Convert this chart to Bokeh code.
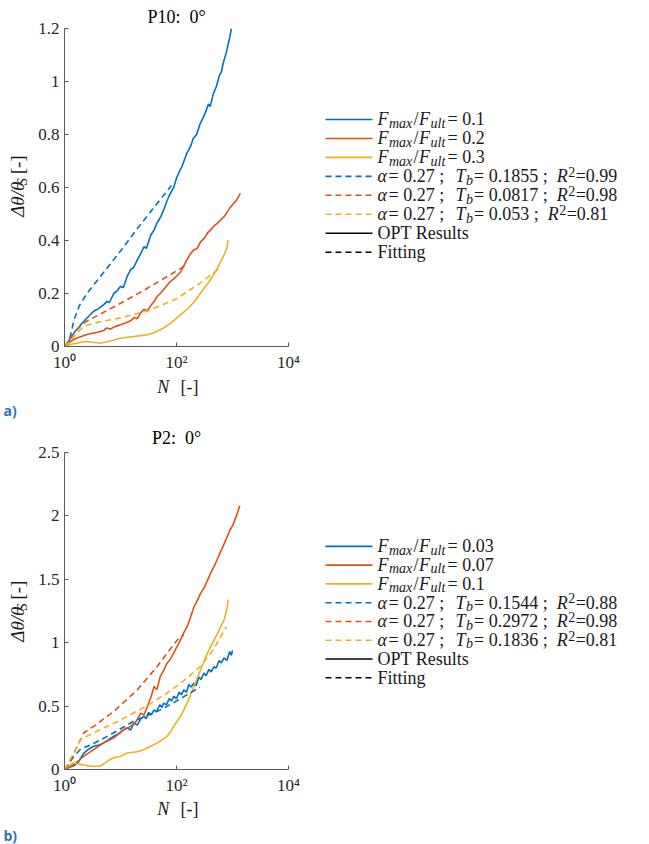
import numpy as np
from bokeh.plotting import figure
from bokeh.layouts import column, row
from bokeh.models import Range1d, FixedTicker, CustomJSTickFormatter
from bokeh.core.properties import value
from bokeh.embed import file_html
from bokeh.resources import INLINE

# ---------------- DATA (x read as decades on the log axis: N = 10**logN) ----------------
x_tick_values = [1, 100, 10000]
x_tick_labels = ["10\u2070", "10\u00b2", "10\u2074"]
y_ticks_a = [0, 0.2, 0.4, 0.6, 0.8, 1.0, 1.2]
y_ticks_b = [0, 0.5, 1.0, 1.5, 2.0, 2.5]

title_a = "P10:\u00a0\u00a00\u00b0"
title_b = "P2:\u00a0\u00a00\u00b0"

# Panel a) P10
a_ratio = ["0.1", "0.2", "0.3"]
a_Tb = ["0.1855", "0.0817", "0.053"]
a_R2 = ["0.99", "0.98", "0.81"]
alpha = "0.27"

a1_logN = [0, 0.05, 0.1, 0.15, 0.2, 0.25, 0.3, 0.375, 0.45, 0.52, 0.6, 0.7, 0.76, 0.8, 0.88, 0.94, 1.0, 1.05,
           1.12, 1.18, 1.24, 1.3, 1.36, 1.42, 1.46, 1.54, 1.6, 1.65, 1.72, 1.77, 1.83, 1.89, 1.95, 2.0, 2.05,
           2.1, 2.18, 2.25, 2.3, 2.36, 2.42, 2.48, 2.53, 2.57, 2.6, 2.66, 2.71, 2.77, 2.8, 2.83, 2.89, 2.95, 2.98]
a1_y = [0, 0.012, 0.03, 0.045, 0.06, 0.07, 0.085, 0.102, 0.118, 0.133, 0.142, 0.158, 0.170, 0.166, 0.2, 0.21,
        0.227, 0.222, 0.265, 0.29, 0.30, 0.327, 0.35, 0.377, 0.37, 0.42, 0.44, 0.465, 0.49, 0.515, 0.55, 0.578,
        0.60, 0.635, 0.66, 0.68, 0.727, 0.755, 0.785, 0.80, 0.84, 0.865, 0.89, 0.915, 0.905, 0.955, 0.98, 1.025,
        1.035, 1.066, 1.11, 1.166, 1.2]
a1f_logN = [0, 0.05, 0.1, 0.17, 0.26, 0.4, 0.7, 1.0, 1.3, 1.6, 1.91]
a1f_y = [0, 0.01, 0.035, 0.10, 0.152, 0.2, 0.28, 0.36, 0.445, 0.525, 0.608]

a2_logN = [0, 0.1, 0.2, 0.3, 0.4, 0.5, 0.6, 0.7, 0.75, 0.82, 0.9, 1.0, 1.1, 1.18, 1.25, 1.3, 1.36, 1.42, 1.48,
           1.54, 1.6, 1.66, 1.71, 1.77, 1.83, 1.89, 1.95, 2.0, 2.07, 2.12, 2.18, 2.25, 2.31, 2.37, 2.43, 2.5,
           2.56, 2.61, 2.67, 2.73, 2.79, 2.85, 2.9, 2.96, 3.02, 3.08, 3.14]
a2_y = [0, 0.018, 0.03, 0.038, 0.045, 0.05, 0.054, 0.06, 0.07, 0.066, 0.075, 0.082, 0.09, 0.097, 0.11, 0.105,
        0.127, 0.14, 0.135, 0.155, 0.17, 0.19, 0.2, 0.215, 0.23, 0.245, 0.255, 0.265, 0.28, 0.30, 0.325, 0.35,
        0.365, 0.37, 0.395, 0.41, 0.43, 0.44, 0.455, 0.465, 0.478, 0.49, 0.505, 0.525, 0.54, 0.555, 0.578]
a2f_logN = [0, 0.1, 0.2, 0.3, 0.375, 0.6, 1.0, 1.4, 1.8, 2.2]
a2f_y = [0, 0.03, 0.058, 0.08, 0.093, 0.118, 0.163, 0.21, 0.26, 0.31]

a3_logN = [0, 0.1, 0.22, 0.3, 0.4, 0.5, 0.635, 0.8, 0.99, 1.2, 1.47, 1.6, 1.76, 1.9, 2.0, 2.12, 2.24, 2.35, 2.47,
           2.6, 2.71, 2.8, 2.86, 2.9, 2.92]
a3_y = [0, 0.008, 0.0125, 0.016, 0.019, 0.016, 0.0125, 0.02, 0.031, 0.037, 0.044, 0.052, 0.069, 0.088, 0.107,
        0.128, 0.15, 0.178, 0.213, 0.25, 0.288, 0.325, 0.351, 0.37, 0.401]
a3f_logN = [0, 0.1, 0.2, 0.345, 0.6, 1.0, 1.5, 2.0, 2.43, 2.8]
a3f_y = [0, 0.02, 0.045, 0.076, 0.092, 0.108, 0.135, 0.18, 0.24, 0.30]

# Panel b) P2
b_ratio = ["0.03", "0.07", "0.1"]
b_Tb = ["0.1544", "0.2972", "0.1836"]
b_R2 = ["0.88", "0.98", "0.81"]

b1_logN = [0, 0.1, 0.17, 0.25, 0.345, 0.43, 0.52, 0.6, 0.7, 0.8, 0.88, 0.96, 1.06, 1.12, 1.18, 1.24, 1.3, 1.36,
           1.42, 1.46, 1.5, 1.55, 1.6, 1.64, 1.7, 1.74, 1.77, 1.82, 1.87, 1.91, 1.95, 2.0, 2.05, 2.09, 2.13, 2.18,
           2.22, 2.26, 2.31, 2.35, 2.4, 2.44, 2.49, 2.53, 2.58, 2.62, 2.67, 2.71, 2.76, 2.8, 2.85, 2.9, 2.95,
           2.98, 3.0]
b1_y = [0, 0.02, 0.03, 0.06, 0.13, 0.16, 0.183, 0.19, 0.21, 0.24, 0.262, 0.28, 0.314, 0.33, 0.31, 0.367, 0.35,
        0.40, 0.419, 0.40, 0.45, 0.43, 0.47, 0.455, 0.51, 0.49, 0.524, 0.51, 0.56, 0.54, 0.576, 0.56, 0.61, 0.59,
        0.628, 0.61, 0.67, 0.65, 0.68, 0.66, 0.73, 0.71, 0.76, 0.74, 0.79, 0.77, 0.81, 0.80, 0.86, 0.84, 0.88,
        0.86, 0.93, 0.90, 0.94]
b1f_logN = [0, 0.05, 0.17, 0.286, 0.52, 0.8, 1.23, 1.71, 2.0, 2.19, 2.42]
b1f_y = [0, 0.03, 0.105, 0.16, 0.205, 0.27, 0.38, 0.47, 0.54, 0.59, 0.65]

b2_logN = [0, 0.17, 0.345, 0.52, 0.70, 0.88, 1.06, 1.18, 1.28, 1.36, 1.42, 1.48, 1.55, 1.6, 1.65, 1.71, 1.77,
           1.83, 1.89, 1.95, 2.01, 2.07, 2.13, 2.19, 2.25, 2.31, 2.37, 2.43, 2.49, 2.55, 2.61, 2.67, 2.73, 2.77,
           2.83, 2.89, 2.95, 3.01, 3.07, 3.13]
b2_y = [0, 0.039, 0.105, 0.157, 0.21, 0.25, 0.314, 0.34, 0.38, 0.445, 0.43, 0.497, 0.58, 0.654, 0.63, 0.733,
        0.78, 0.838, 0.87, 0.917, 0.97, 1.02, 1.08, 1.126, 1.2, 1.28, 1.33, 1.39, 1.43, 1.49, 1.55, 1.6, 1.66,
        1.70, 1.76, 1.82, 1.885, 1.93, 2.0, 2.08]
b2f_logN = [0, 0.05, 0.17, 0.345, 0.52, 0.88, 1.3, 1.65, 2.01, 2.13]
b2f_y = [0, 0.026, 0.13, 0.29, 0.34, 0.458, 0.628, 0.81, 1.02, 1.06]

b3_logN = [0, 0.08, 0.16, 0.3, 0.46, 0.64, 0.72, 0.81, 0.9, 1.0, 1.12, 1.3, 1.42, 1.55, 1.66, 1.75, 1.83, 1.9,
           1.95, 2.01, 2.07, 2.13, 2.19, 2.25, 2.31, 2.37, 2.43, 2.49, 2.55, 2.61, 2.67, 2.73, 2.79, 2.85, 2.88,
           2.91, 2.92]
b3_y = [0, 0.03, 0.052, 0.04, 0.026, 0.026, 0.05, 0.078, 0.095, 0.105, 0.13, 0.14, 0.157, 0.185, 0.21, 0.235,
        0.262, 0.30, 0.34, 0.38, 0.419, 0.47, 0.524, 0.59, 0.655, 0.72, 0.785, 0.85, 0.916, 0.97, 1.02, 1.07,
        1.126, 1.18, 1.23, 1.29, 1.34]
b3f_logN = [0, 0.1, 0.17, 0.28, 0.64, 1.0, 1.23, 1.5, 1.82, 2.1, 2.42, 2.65, 2.89]
b3f_y = [0, 0.08, 0.13, 0.236, 0.314, 0.39, 0.445, 0.51, 0.60, 0.69, 0.81, 0.94, 1.126]

# ---------------- STYLE ----------------
BLUE, RED, YELLOW = "#0072BD", "#D95319", "#EDB120"
COLORS = [BLUE, RED, YELLOW]
SERIF = "Liberation Serif"
TXT = "#1a1a1a"
AX = "#5a5a5a"
FS = "17px"
LFS = "18px"
SUB = "14px"
LW = 1.6
DASH = "6 4"

TW = {c: 0.5 for c in "0123456789"}
TW.update({".": 0.25, " ": 0.25, ";": 0.278, "=": 0.564})


def tw(s, size=18):
    return sum(TW.get(c, 0.5) for c in s) * size


def blank_fig(w, h):
    f = figure(width=w, height=h, x_range=Range1d(0, w), y_range=Range1d(0, h),
               output_backend="svg", toolbar_location=None,
               x_axis_location=None, y_axis_location=None,
               min_border_left=0, min_border_right=0, min_border_top=0, min_border_bottom=0)
    f.outline_line_color = None
    f.grid.visible = False
    return f


def put(f, xs, ys, texts, size=LFS, style="normal", font=SERIF, color=TXT, angle=0, align="left"):
    f.text(x=xs, y=ys, text=texts, text_font=value(font), text_font_size=size,
           text_font_style=style, text_color=color, text_baseline="middle",
           text_align=align, angle=angle)


def make_plot(title, ymax, yticks, height, top, standoff, curves, fits):
    p = figure(width=278, height=height, x_axis_type="log",
               x_range=Range1d(1, 1e4), y_range=Range1d(0, ymax),
               output_backend="svg", toolbar_location=None, title=title,
               min_border_left=32, min_border_right=22, min_border_top=top, min_border_bottom=27)
    p.outline_line_color = None
    p.grid.visible = False
    p.title.text_font = SERIF
    p.title.text_font_size = "18px"
    p.title.text_font_style = "normal"
    p.title.text_color = "#000000"
    p.title.align = "center"
    p.title.standoff = standoff
    for (lx, ly), c in zip(curves, COLORS):
        p.line(10 ** np.array(lx), ly, color=c, line_width=LW)
    for (lx, ly), c in zip(fits, COLORS):
        p.line(10 ** np.array(lx), ly, color=c, line_width=LW, line_dash=DASH)
    p.xaxis.ticker = FixedTicker(ticks=x_tick_values)
    p.xaxis.formatter = CustomJSTickFormatter(
        args=dict(vals=x_tick_values, labs=x_tick_labels),
        code="for (let i = 0; i < vals.length; i++) { if (Math.abs(Math.log10(tick) - Math.log10(vals[i])) < 1e-6) return labs[i]; } return '';")
    p.yaxis.ticker = FixedTicker(ticks=yticks)
    p.yaxis.formatter = CustomJSTickFormatter(code="return String(Math.round(tick * 10) / 10);")
    for ax in (p.xaxis[0], p.yaxis[0]):
        ax.axis_line_color = AX
        ax.major_tick_line_color = AX
        ax.major_tick_in = 4
        ax.major_tick_out = 0
        ax.minor_tick_in = 0
        ax.minor_tick_out = 0
        ax.minor_tick_line_color = None
        ax.major_label_text_font = SERIF
        ax.major_label_text_font_size = FS
        ax.major_label_text_color = "#262626"
        ax.major_label_standoff = 5
    p.xaxis.major_label_standoff = 6
    return p


def ylabel_fig(h, center):
    f = blank_fig(32, h)
    y0 = center - 34
    put(f, [17], [y0], ["\u0394\u03b8/\u03b8"], size="19px", style="italic", angle=np.pi / 2)
    put(f, [22], [y0 + 37], ["S"], size=SUB, style="italic", angle=np.pi / 2)
    put(f, [17], [y0 + 50], ["[-]"], size="19px", angle=np.pi / 2)
    return f


def legend_fig(h, row0, ratios, Tbs, R2s):
    f = blank_fig(339, h)
    ys = [h - (row0 + 22.3 * i) for i in range(8)]
    for i, c in enumerate(COLORS):
        f.line([15, 62], [ys[i]] * 2, color=c, line_width=LW)
        f.line([15, 62], [ys[i + 3]] * 2, color=c, line_width=LW, line_dash=DASH)
    f.line([15, 62], [ys[6]] * 2, color="#000000", line_width=LW)
    f.line([15, 62], [ys[7]] * 2, color="#000000", line_width=LW, line_dash=DASH)
    it_x, it_y, it_t = [], [], []
    sub_x, sub_y, sub_t = [], [], []
    rg_x, rg_y, rg_t = [], [], []
    sup_x, sup_y, sup_t = [], [], []
    for i, r in enumerate(ratios):
        y = ys[i]
        it_x += [67, 108.5]; it_y += [y, y]; it_t += ["F", "F"]
        sub_x += [78.5, 120]; sub_y += [y - 4.5, y - 4.5]; sub_t += ["max", "ult"]
        rg_x += [103, 137]; rg_y += [y, y]; rg_t += ["/", "= " + r]
    for i, (tb, r2) in enumerate(zip(Tbs, R2s)):
        y = ys[i + 3]
        s = "= " + tb + " ;"
        rx = 163.5 + tw(s) + 9
        it_x += [67, 145, rx]; it_y += [y, y, y]; it_t += ["\u03b1", "T", "R"]
        sub_x += [155.5]; sub_y += [y - 4.5]; sub_t += ["b"]
        rg_x += [78, 163.5, rx + 19]; rg_y += [y, y, y]; rg_t += ["= " + alpha + " ;", s, "=" + r2]
        sup_x += [rx + 11.5]; sup_y += [y + 5.5]; sup_t += ["2"]
    rg_x += [67, 67]; rg_y += [ys[6], ys[7]]; rg_t += ["OPT Results", "Fitting"]
    put(f, it_x, it_y, it_t, style="italic")
    put(f, sub_x, sub_y, sub_t, size=SUB, style="italic")
    put(f, rg_x, rg_y, rg_t)
    put(f, sup_x, sup_y, sup_t, size=SUB)
    return f


def strip_fig(h, ny, tag, tag_y):
    f = blank_fig(649, h)
    put(f, [156.7], [ny], ["N"], style="italic")
    put(f, [180], [ny], ["[-]"])
    put(f, [3], [tag_y], [tag], size="14px", style="bold", font="Open Sans", color="#2E74B5")
    return f


HA, HB = 374, 377
SA, SB = 46, 47
pa = make_plot(title_a, 1.2, y_ticks_a, HA, 28, 4,
               [(a1_logN, a1_y), (a2_logN, a2_y), (a3_logN, a3_y)],
               [(a1f_logN, a1f_y), (a2f_logN, a2f_y), (a3f_logN, a3f_y)])
pb = make_plot(title_b, 2.5, y_ticks_b, HB, 32, 9,
               [(b1_logN, b1_y), (b2_logN, b2_y), (b3_logN, b3_y)],
               [(b1f_logN, b1f_y), (b2f_logN, b2f_y), (b3f_logN, b3f_y)])

row_a = row(ylabel_fig(HA, HA - 187.5), pa, legend_fig(HA, 107, a_ratio, a_Tb, a_R2))
strip_a = strip_fig(SA, SA - 12.7, "a)", SA - 36)
row_b = row(ylabel_fig(HB, HB - 191), pb, legend_fig(HB, 111.7, b_ratio, b_Tb, b_R2))
strip_b = strip_fig(SB, SB - 11, "b)", SB - 37.5)

layout = column(row_a, strip_a, row_b, strip_b)
open("out.html", "w").write(file_html(layout, INLINE))
